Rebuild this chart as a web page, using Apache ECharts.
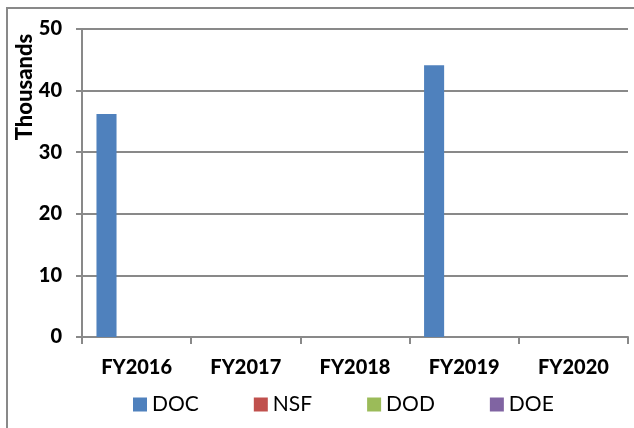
<!DOCTYPE html>
<html>
<head>
<meta charset="utf-8">
<script src="https://cdn.jsdelivr.net/npm/echarts@6/dist/echarts.min.js"></script>
<style>
  html, body { margin: 0; padding: 0; background: #fff; }
  #chart { width: 634px; height: 428px; }
</style>
</head>
<body>
<div id="chart"></div>
<script>
const years = ["FY2016", "FY2017", "FY2018", "FY2019", "FY2020"];
const seriesNames = ["DOC", "NSF", "DOD", "DOE"];
const docValues = [36.2, 0, 0, 44.1, 0];
const nsfValues = [0, 0, 0, 0, 0];
const dodValues = [0, 0, 0, 0, 0];
const doeValues = [0, 0, 0, 0, 0];
const colors = ["#4F81BD", "#C0504D", "#9BBB59", "#8064A2"];

const allValues = [docValues, nsfValues, dodValues, doeValues];
const font = "Lato, 'Open Sans', sans-serif";
const lineColor = "#898989";

const chart = echarts.init(document.getElementById("chart"));
chart.setOption({
  animation: false,
  color: colors,
  grid: { left: 82, top: 29, right: 6, bottom: 91 },
  legend: {
    data: seriesNames,
    bottom: 8,
    left: 128,
    itemGap: 55,
    itemWidth: 14,
    itemHeight: 14,
    icon: "rect",
    textStyle: { fontFamily: font, fontSize: 21, color: "#000" }
  },
  xAxis: {
    type: "category",
    data: years,
    axisLine: { lineStyle: { color: lineColor, width: 2 } },
    axisTick: { show: true, length: 7, lineStyle: { color: lineColor, width: 2 } },
    axisLabel: { fontFamily: font, fontWeight: 900, fontSize: 20, color: "#000", margin: 21 }
  },
  yAxis: {
    type: "value",
    min: 0,
    max: 50,
    interval: 10,
    axisLine: { show: true, lineStyle: { color: lineColor, width: 2 } },
    axisTick: { show: true, length: 6, lineStyle: { color: lineColor, width: 2 } },
    splitLine: { lineStyle: { color: lineColor, width: 2 } },
    axisLabel: { fontFamily: font, fontWeight: 900, fontSize: 20, color: "#000", margin: 20 }
  },
  graphic: [
    {
      type: "rect",
      shape: { x: 7, y: 8, width: 650, height: 450 },
      style: { fill: null, stroke: lineColor, lineWidth: 2 },
      silent: true
    },
    {
      type: "text",
      x: 25,
      y: 87,
      rotation: Math.PI / 2,
      style: {
        text: "Thousands",
        fontFamily: font,
        fontWeight: 900,
        fontSize: 22,
        fill: "#000",
        align: "center",
        verticalAlign: "middle"
      }
    }
  ],
  series: seriesNames.map((name, i) => ({
    name: name,
    type: "bar",
    data: allValues[i],
    barGap: 0,
    barCategoryGap: "26.5%"
  }))
});
</script>
</body>
</html>
